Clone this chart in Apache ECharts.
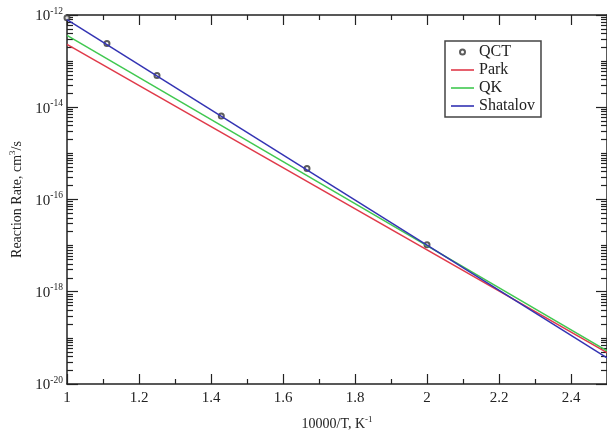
<!DOCTYPE html>
<html><head><meta charset="utf-8">
<script src="https://cdn.jsdelivr.net/npm/echarts@6/dist/echarts.min.js"></script>
<style>html,body{margin:0;padding:0;background:#fff}#c{width:607px;height:436px}</style>
</head><body><div id="c"></div>
<script>
// ---- data ----
const qctX = [1.0, 1.111, 1.25, 1.4286, 1.6667, 2.0];
const qctY = [8.7e-13, 2.4e-13, 4.9e-14, 6.5e-15, 4.7e-16, 1.05e-17];
const lineX = [1.0, 2.5];
const parkY = [2.3e-13, 4.8e-20];
const qkY = [3.6e-13, 5.2e-20];
const shatalovY = [7.9e-13, 3.7e-20];
// ---- axis ticks / labels ----
const xMajorTicks = [1, 1.2, 1.4, 1.6, 1.8, 2, 2.2, 2.4];
const xMajorLabels = ['1', '1.2', '1.4', '1.6', '1.8', '2', '2.2', '2.4'];
const xMinorTicks = [1.1, 1.3, 1.5, 1.7, 1.9, 2.1, 2.3];
const yLabelExps = [-20, -18, -16, -14, -12];
const yOddExps = [-19, -17, -15, -13];
const yMantissas = [2, 3, 4, 5, 6, 7, 8, 9];

const yMajorVals = yLabelExps.map(e => Math.pow(10, e));
const yMinorVals = [];
for (let e = -20; e < -12; e++) yMantissas.forEach(m => yMinorVals.push(m * Math.pow(10, e)));
yOddExps.forEach(e => yMinorVals.push(Math.pow(10, e)));

const FONT = 'Liberation Serif';
const AX = '#222';
const LINE_ICON = 'path://M0,0H23V1.6H0Z';

function xAx(pos, ticks, len, showLine, labels) {
  return {
    type: 'value', position: pos, min: 1, max: 2.5,
    splitLine: {show: false},
    axisLine: {show: showLine, onZero: false, lineStyle: {color: AX, width: 1.5}},
    axisTick: {show: true, inside: true, length: len, customValues: ticks, lineStyle: {color: AX, width: 1.2}},
    axisLabel: labels ? {show: true, customValues: ticks, margin: 7, color: '#222', fontFamily: FONT, fontSize: 15,
      formatter: v => xMajorLabels[xMajorTicks.findIndex(t => Math.abs(t - v) < 1e-9)]} : {show: false},
    name: labels ? '{b|10000/T, K}{s|-1}' : '',
    nameLocation: 'middle', nameGap: 31,
    nameTextStyle: {rich: {
      b: {fontFamily: FONT, fontSize: 14, color: '#222', lineHeight: 16, verticalAlign: 'bottom'},
      s: {fontFamily: FONT, fontSize: 9, color: '#222', lineHeight: 16, verticalAlign: 'top'}}}
  };
}
function yAx(pos, ticks, len, showLine, labels) {
  return {
    type: 'log', logBase: 10, position: pos, min: 1e-20, max: 1e-12,
    splitLine: {show: false},
    axisLine: {show: showLine, onZero: false, lineStyle: {color: AX, width: 1.5}},
    axisTick: {show: true, inside: true, length: len, customValues: ticks, lineStyle: {color: AX, width: 1.2}},
    axisLabel: labels ? {show: true, customValues: ticks, margin: 4, color: '#222', fontFamily: FONT,
      formatter: v => '{b|10}{s|' + Math.round(Math.log10(v)) + '}',
      rich: {
        b: {fontFamily: FONT, fontSize: 15, color: '#222', lineHeight: 18, verticalAlign: 'bottom'},
        s: {fontFamily: FONT, fontSize: 9.5, color: '#222', lineHeight: 18, verticalAlign: 'top'}}} : {show: false},
    name: labels ? '{b|Reaction Rate, cm}{s|3}{b|/s}' : '',
    nameLocation: 'middle', nameGap: 32, nameRotate: 90,
    nameTextStyle: {rich: {
      b: {fontFamily: FONT, fontSize: 14, color: '#222', lineHeight: 16, verticalAlign: 'bottom'},
      s: {fontFamily: FONT, fontSize: 9, color: '#222', lineHeight: 16, verticalAlign: 'top'}}}
  };
}

const chart = echarts.init(document.getElementById('c'), null, {renderer: 'canvas'});
chart.setOption({
  backgroundColor: '#fff',
  animation: false,
  grid: {left: 67, top: 15, width: 540, height: 379, containLabel: false},
  xAxis: [
    xAx('bottom', xMajorTicks, 10, true, true),
    xAx('bottom', xMinorTicks, 5, false, false),
    xAx('top', xMajorTicks, 10, true, false),
    xAx('top', xMinorTicks, 5, false, false)
  ],
  yAxis: [
    yAx('left', yMajorVals, 11, true, true),
    yAx('left', yMinorVals, 6, false, false),
    yAx('right', yMajorVals, 11, true, false),
    yAx('right', yMinorVals, 6, false, false)
  ],
  legend: {
    left: 445, top: 41, orient: 'vertical',
    backgroundColor: '#fff', borderColor: '#444', borderWidth: 1.5,
    padding: [3, 6, 3, 6], itemWidth: 23, itemHeight: 5, itemGap: 2, itemTextGap: 9,
    textStyle: {fontFamily: FONT, fontSize: 16, color: '#222', lineHeight: 15},
    data: [
      {name: 'QCT', icon: 'emptyCircle'},
      {name: 'Park', icon: LINE_ICON},
      {name: 'QK', icon: LINE_ICON},
      {name: 'Shatalov', icon: LINE_ICON}
    ]
  },
  series: [
    {name: 'Park', type: 'line', symbol: 'none', data: lineX.map((x, i) => [x, parkY[i]]),
      lineStyle: {color: '#e03a4a', width: 1.5}, itemStyle: {color: '#e03a4a'}},
    {name: 'QK', type: 'line', symbol: 'none', data: lineX.map((x, i) => [x, qkY[i]]),
      lineStyle: {color: '#40c850', width: 1.5}, itemStyle: {color: '#40c850'}},
    {name: 'Shatalov', type: 'line', symbol: 'none', data: lineX.map((x, i) => [x, shatalovY[i]]),
      lineStyle: {color: '#3333b3', width: 1.5}, itemStyle: {color: '#3333b3'}},
    {name: 'QCT', type: 'scatter', symbol: 'emptyCircle', symbolSize: 5,
      data: qctX.map((x, i) => [x, qctY[i]]),
      itemStyle: {color: '#333', borderColor: '#333', borderWidth: 0.9}}
  ]
});
</script></body></html>
